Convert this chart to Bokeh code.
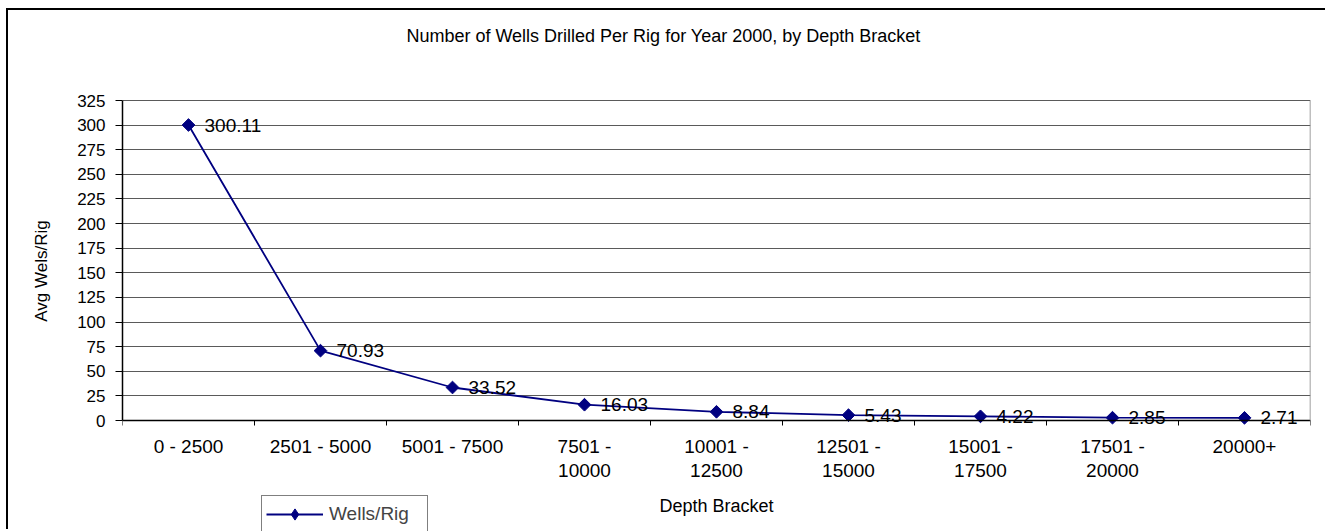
from bokeh.plotting import figure
from bokeh.models import (ColumnDataSource, Range1d, FixedTicker, Legend, LegendItem, Label,
                          LinearAxis)
from bokeh.core.properties import value
from bokeh.embed import file_html
from bokeh.resources import INLINE
import math

# ---- data ----
categories = ["0 - 2500", "2501 - 5000", "5001 - 7500", "7501 -\n10000", "10001 -\n12500",
              "12501 -\n15000", "15001 -\n17500", "17501 -\n20000", "20000+"]
wells_per_rig = [300.11, 70.93, 33.52, 16.03, 8.84, 5.43, 4.22, 2.85, 2.71]
y_ticks = list(range(0, 326, 25))

title_text = "Number of Wells Drilled Per Rig for Year 2000, by Depth Bracket"
x_title = "Depth Bracket"
y_title = "Avg Wels/Rig"
series_name = "Wells/Rig"

FONT = "Liberation Sans"
NAVY = "#000080"

# ---- layout (pixels) ----
W, H = 1319, 521                  # canvas size
PLOT_TOP, PLOT_BOTTOM = 90, 410   # plot-area rows inside the canvas
Y_MIN, Y_MAX = 0, 325
px_per_unit = (PLOT_BOTTOM - PLOT_TOP) / (Y_MAX - Y_MIN)
y_lo = Y_MIN - (H - PLOT_BOTTOM) / px_per_unit
y_hi = Y_MAX + PLOT_TOP / px_per_unit
N = len(categories)

xs = [i + 0.5 for i in range(N)]
src = ColumnDataSource(dict(x=xs, y=wells_per_rig,
                            lbl=[f"{v:.2f}" for v in wells_per_rig]))

p = figure(width=W, height=H, output_backend="svg", toolbar_location=None,
           x_range=Range1d(0, N), y_range=Range1d(y_lo, y_hi),
           x_axis_type=None,
           min_border_left=114, min_border_right=17, min_border_top=0, min_border_bottom=0,
           title=None)
p.styles = {"margin-left": "6px", "margin-top": "8px",
            "border-left": "2px solid #000000", "border-top": "2px solid #000000"}
p.background_fill_color = "white"
p.border_fill_color = "white"
p.outline_line_color = None

# x axis placed at y = 0
xaxis = LinearAxis(fixed_location=0)
p.add_layout(xaxis, "below")
xaxis.ticker = FixedTicker(ticks=xs, minor_ticks=list(range(0, N + 1)))
xaxis.major_label_overrides = {x: c for x, c in zip(xs, categories)}
xaxis.major_tick_line_color = None
xaxis.major_tick_out = 5
xaxis.major_tick_in = 0
xaxis.minor_tick_line_color = "black"
xaxis.minor_tick_out = 5
xaxis.minor_tick_in = 0
xaxis.axis_line_color = "black"
xaxis.axis_line_width = 1.5
xaxis.major_label_text_font = FONT
xaxis.major_label_text_font_size = "19px"
xaxis.major_label_text_line_height = 1.15
xaxis.major_label_text_color = "black"
xaxis.major_label_standoff = 10
xaxis.axis_label = x_title
xaxis.axis_label_text_font = FONT
xaxis.axis_label_text_font_size = "18px"
xaxis.axis_label_text_font_style = "normal"
xaxis.axis_label_text_color = "black"
xaxis.axis_label_standoff = 12

# right edge of the plot area (gray), as a bare axis line at x = N
raxis = LinearAxis(fixed_location=N, bounds=(Y_MIN, Y_MAX), ticker=FixedTicker(ticks=[]),
                   axis_line_color="#808080", axis_line_width=1.5,
                   major_tick_line_color=None, minor_tick_line_color=None,
                   major_label_text_alpha=0)
p.add_layout(raxis, "right")

# grid
p.xgrid.grid_line_color = None
p.ygrid.grid_line_color = "#5a5a5a"
p.ygrid.grid_line_width = 1.2

# y axis
p.yaxis[0].ticker = FixedTicker(ticks=y_ticks)
yax = p.left[0]
yax.bounds = (Y_MIN, Y_MAX)
yax.minor_tick_line_color = None
yax.major_tick_out = 7
yax.major_tick_in = 0
yax.major_tick_line_color = "black"
yax.axis_line_color = "black"
yax.axis_line_width = 1.5
yax.major_label_text_font = FONT
yax.major_label_text_font_size = "17px"
yax.major_label_text_color = "black"
yax.major_label_standoff = 10
yax.axis_label = y_title
yax.axis_label_text_font = FONT
yax.axis_label_text_font_size = "17px"
yax.axis_label_text_font_style = "normal"
yax.axis_label_text_color = "black"
yax.axis_label_standoff = 23

# series
ln = p.line("x", "y", source=src, line_color=NAVY, line_width=1.8)
# diamond glyph (gives the legend key its diamond; covered by the markers below)
key = p.scatter("x", "y", source=src, marker="diamond", size=8,
                fill_color=NAVY, line_color=NAVY)
p.scatter("x", "y", source=src, marker="square", angle=math.pi / 4, size=9,
          fill_color=NAVY, line_color=NAVY)
p.text("x", "y", text="lbl", source=src, x_offset=16, y_offset=0,
       text_font=value(FONT), text_font_size="19px", text_color="black",
       text_baseline="middle", text_align="left")

# title
p.add_layout(Label(x=541, y=H - 25, x_units="screen", y_units="screen", text=title_text,
                   text_font=FONT, text_font_size="18px", text_color="black",
                   text_align="center", text_baseline="middle"))

# legend
legend = Legend(items=[LegendItem(label=series_name, renderers=[ln, key])],
                location=(139, -2), orientation="vertical",
                label_text_font=FONT, label_text_font_size="19px",
                glyph_width=57, glyph_height=28, label_height=20, label_width=94,
                label_standoff=6, padding=4, spacing=0, margin=0,
                border_line_color="black", border_line_width=1,
                background_fill_color="white", background_fill_alpha=1)
p.add_layout(legend, "center")

open("out.html", "w").write(file_html(p, INLINE))
